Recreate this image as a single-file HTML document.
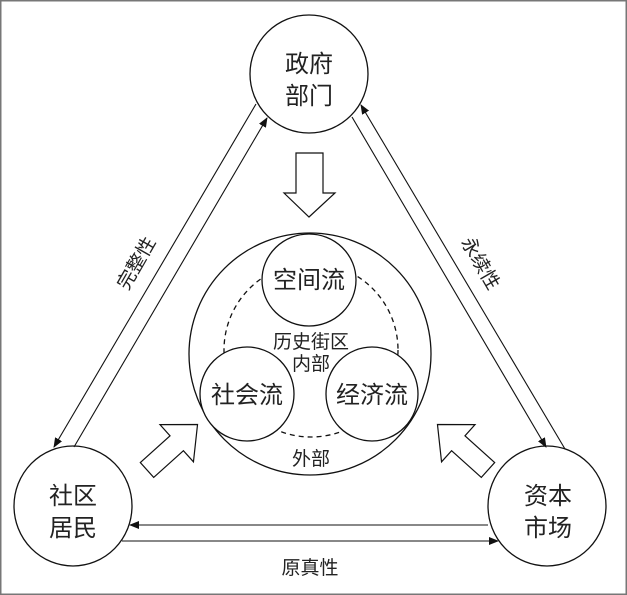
<!DOCTYPE html>
<html><head><meta charset="utf-8"><style>
html,body{margin:0;padding:0;background:#fff;}
svg{display:block;}
text{font-family:"Liberation Sans","Noto Sans CJK SC",sans-serif;fill:#222;}
</style></head><body>
<svg width="627" height="595" viewBox="0 0 627 595" xmlns="http://www.w3.org/2000/svg">
<defs>
<marker id="ah" markerWidth="10" markerHeight="8" refX="9" refY="4" orient="auto" markerUnits="userSpaceOnUse">
<path d="M0,0 L10,4 L0,8 Z" fill="#111"/>
</marker>
</defs>
<rect x="0.75" y="0.75" width="625.5" height="593.5" fill="#fff" stroke="#777" stroke-width="1.5"/>
<g fill="none" stroke="#111" stroke-width="1.3">
<ellipse cx="309" cy="74" rx="59" ry="59"/>
<ellipse cx="73" cy="506" rx="59" ry="60"/>
<ellipse cx="547" cy="506" rx="59" ry="60"/>
<ellipse cx="310" cy="354" rx="121" ry="121"/>
<circle cx="311" cy="350" r="87" stroke-dasharray="5,4"/>
</g>
<g fill="#fff" stroke="#111" stroke-width="1.3">
<ellipse cx="309" cy="280" rx="47" ry="46"/>
<ellipse cx="247" cy="394" rx="47" ry="47"/>
<ellipse cx="372" cy="394" rx="46" ry="47"/>
</g>
<g stroke="#111" stroke-width="1.1" fill="none">
<line x1="256" y1="104" x2="54" y2="447" marker-end="url(#ah)"/>
<line x1="74" y1="447" x2="267" y2="118" marker-end="url(#ah)"/>
<line x1="565" y1="449" x2="361" y2="105" marker-end="url(#ah)"/>
<line x1="352" y1="117" x2="546" y2="447" marker-end="url(#ah)"/>
<line x1="488" y1="525" x2="130" y2="525" marker-end="url(#ah)"/>
<line x1="122" y1="541" x2="498" y2="541" marker-end="url(#ah)"/>
</g>
<g fill="#fff" stroke="#111" stroke-width="1.2">
<polygon points="296,153 323,153 323,193 335,193 309,217 284,193 296,193"/>
<polygon transform="translate(147,470) rotate(-42)" points="0,-10 40,-10 40,-25 68,0 40,25 40,10 0,10"/>
<polygon transform="translate(488,470) rotate(-138) scale(1,-1)" points="0,-10 40,-10 40,-25 68,0 40,25 40,10 0,10"/>
</g>
<g font-size="24" text-anchor="middle">
<text x="309" y="72">政府</text>
<text x="309" y="104">部门</text>
<text x="73" y="504">社区</text>
<text x="73" y="536">居民</text>
<text x="548" y="504">资本</text>
<text x="548" y="536">市场</text>
<text x="309" y="288">空间流</text>
<text x="247" y="403">社会流</text>
<text x="372" y="403">经济流</text>
</g>
<g font-size="19" text-anchor="middle">
<text x="311" y="348">历史街区</text>
<text x="311" y="370">内部</text>
<text x="311" y="465">外部</text>
<text x="310" y="574">原真性</text>
<text transform="translate(136,263) rotate(-60)" y="7">完整性</text>
<text transform="translate(481,263) rotate(60)" y="7">永续性</text>
</g>
</svg>
</body></html>
